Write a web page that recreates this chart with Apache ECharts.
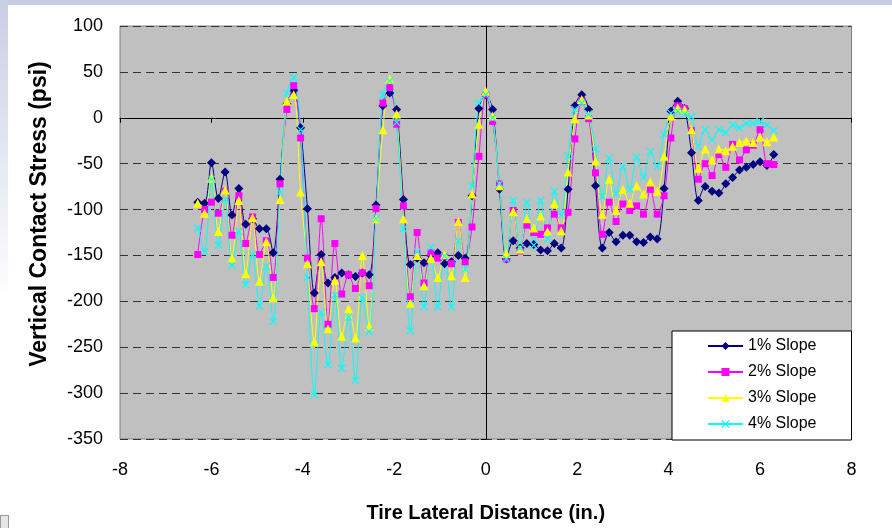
<!DOCTYPE html>
<html>
<head>
<meta charset="utf-8">
<script src="https://cdn.jsdelivr.net/npm/echarts@6/dist/echarts.min.js"></script>
<style>
    html, body { margin: 0; padding: 0; background: #fff; }
    .wrap { position: relative; width: 892px; height: 528px; overflow: hidden; }
    .top_bar { position: absolute; left: 0; top: 0; width: 892px; height: 5px; background: #c6cce2; }
    .left_bar { position: absolute; left: 0; top: 0; width: 8px; height: 300px; background: linear-gradient(#c9cee4, #fff); }
    .corner { position: absolute; left: 0; top: 515px; width: 7px; height: 13px; border: 1px solid #999; background: #e6e6e6; }
    .chart { position: absolute; left: 0; top: 0; width: 892px; height: 528px; }
</style>
</head>
<body>
<div class="wrap">
    <div class="top_bar"></div>
    <div class="left_bar"></div>
    <div class="corner"></div>
    <div class="chart"></div>
</div>
<script>
// 横向位置 (in.)
let xs = [-6.3, -6.15, -6, -5.85, -5.7, -5.55, -5.4, -5.25, -5.1, -4.95, -4.8, -4.65, -4.5, -4.35, -4.2,
    -4.05, -3.9, -3.75, -3.6, -3.45, -3.3, -3.15, -3, -2.85, -2.7, -2.55, -2.4, -2.25, -2.1, -1.95,
    -1.8, -1.65, -1.5, -1.35, -1.2, -1.05, -0.9, -0.75, -0.6, -0.45, -0.3, -0.15, 0, 0.15, 0.3,
    0.45, 0.6, 0.75, 0.9, 1.05, 1.2, 1.35, 1.5, 1.65, 1.8, 1.95, 2.1, 2.25, 2.4, 2.55,
    2.7, 2.85, 3, 3.15, 3.3, 3.45, 3.6, 3.75, 3.9, 4.05, 4.2, 4.35, 4.5, 4.65, 4.8,
    4.95, 5.1, 5.25, 5.4, 5.55, 5.7, 5.85, 6, 6.15, 6.3];

let slope1 = [-92, -93, -49, -88, -59, -106, -77, -116, -110, -121, -121, -147, -67, 15, 30,
    -11, -99, -191, -149, -180, -174, -169, -171, -173, -169, -171, -95, 13, 27, 9,
    -89, -160, -153, -158, -150, -147, -159, -157, -150, -153, -85, 10, 25, 9, -78,
    -154, -134, -142, -137, -138, -144, -145, -137, -142, -78, 13, 25, 9, -74, -142,
    -125, -135, -128, -128, -135, -136, -130, -132, -77, 7, 18, 10, -38, -90, -75,
    -80, -82, -72, -65, -57, -54, -51, -48, -52, -40];

let slope2 = [-149, -100, -92, -104, -80, -128, -85, -137, -108, -149, -134, -174, -72, 9, 35,
    -22, -153, -208, -110, -225, -137, -192, -171, -186, -169, -183, -99, 16, 33, -7,
    -96, -195, -125, -180, -147, -153, -151, -159, -114, -157, -119, -42, 25, -4, -72,
    -154, -101, -145, -117, -125, -127, -120, -105, -120, -103, -23, 18, -1, -60, -127,
    -92, -113, -94, -101, -96, -105, -78, -105, -85, -22, 13, 10, -14, -67, -50,
    -63, -40, -54, -29, -46, -35, -30, -13, -50, -51];

let slope3 = [-93, -104, -66, -124, -79, -153, -90, -170, -109, -178, -135, -196, -89, 18, 25,
    -81, -159, -244, -157, -230, -177, -238, -208, -240, -150, -227, -110, -13, 42, 4,
    -110, -202, -150, -183, -153, -174, -149, -172, -113, -174, -83, -7, 29, 2, -74,
    -148, -102, -143, -110, -120, -107, -124, -93, -123, -59, -1, 20, 3, -47, -105,
    -67, -101, -78, -93, -74, -83, -70, -80, -42, 2, 11, 9, -13, -55, -34,
    -46, -34, -36, -31, -27, -25, -27, -21, -26, -21];

let slope4 = [-120, -146, -67, -139, -89, -161, -124, -182, -149, -205, -162, -222, -81, 27, 44,
    -13, -174, -302, -212, -269, -193, -273, -217, -286, -196, -233, -110, 25, 40, -5,
    -121, -232, -146, -206, -141, -206, -151, -206, -134, -165, -74, 16, 25, 0, -72,
    -154, -90, -142, -92, -139, -90, -132, -80, -106, -42, 9, 16, 4, -34, -86,
    -44, -83, -53, -78, -43, -65, -37, -53, -18, 5, 7, 4, 1, -31, -13,
    -24, -13, -16, -8, -11, -6, -6, -4, -8, -14];

let names = ['1% Slope', '2% Slope', '3% Slope', '4% Slope'];
let xTicks = [-8, 8, 2];
let yTicks = [-350, 100, 50];

window.addEventListener('load', function() {
    let myChart = echarts.init(document.querySelector('.chart'));

    let labelFont = 'Arial, "Liberation Sans", sans-serif';
    let crossX = 'path://M0,1L1,0L5,4L9,0L10,1L6,5L10,9L9,10L5,6L1,10L0,9L4,5Z';

    function pairs(ys) {
        return xs.map(function(x, i) {
            return [x, ys[i]];
        });
    }

    function line(name, ys, color, symbol, size) {
        return {
            name: name,
            type: 'line',
            smooth: 0.3,
            symbol: symbol,
            symbolSize: size,
            lineStyle: { color: color, width: 1 },
            itemStyle: { color: color },
            emphasis: { disabled: true },
            data: pairs(ys)
        };
    }

    let option = {
        animation: false,
        backgroundColor: 'transparent',
        grid: {
            left: 120,
            right: 40.5,
            top: 26,
            bottom: 87,
            show: true,
            backgroundColor: '#c0c0c0',
            borderColor: '#808080',
            borderWidth: 1
        },
        legend: {
            orient: 'vertical',
            left: 672,
            top: 331,
            padding: [7, 35, 8, 35],
            itemGap: 10,
            itemWidth: 35,
            itemHeight: 10,
            backgroundColor: '#fff',
            borderColor: '#000',
            borderWidth: 1,
            textStyle: { fontSize: 16, fontFamily: labelFont, color: '#000' },
            data: names
        },
        xAxis: [{
            type: 'value',
            min: xTicks[0],
            max: xTicks[1],
            interval: xTicks[2],
            position: 'bottom',
            axisLine: { show: false, onZero: false },
            axisTick: { show: false },
            splitLine: { show: false },
            axisLabel: { margin: 22, fontSize: 18, fontFamily: labelFont, color: '#000' },
            name: 'Tire Lateral Distance (in.)',
            nameLocation: 'middle',
            nameGap: 64,
            nameTextStyle: { fontSize: 20, fontWeight: 'bold', fontFamily: labelFont, color: '#000' }
        }, {
            type: 'value',
            min: xTicks[0],
            max: xTicks[1],
            interval: xTicks[2],
            position: 'bottom',
            axisLine: { show: true, onZero: true, lineStyle: { color: '#000', width: 1 } },
            axisTick: { show: true, length: 5, lineStyle: { color: '#000' } },
            axisLabel: { show: false },
            splitLine: { show: false }
        }],
        yAxis: [{
            type: 'value',
            min: yTicks[0],
            max: yTicks[1],
            interval: yTicks[2],
            position: 'left',
            axisLine: { show: false, onZero: false },
            axisTick: { show: false },
            splitLine: { lineStyle: { color: '#333', width: 1, type: [8, 5] } },
            axisLabel: { margin: 17, fontSize: 18, fontFamily: labelFont, color: '#000' }
        }, {
            type: 'value',
            min: yTicks[0],
            max: yTicks[1],
            interval: yTicks[2],
            position: 'left',
            axisLine: { show: true, onZero: true, lineStyle: { color: '#000', width: 1 } },
            axisTick: { show: true, length: 5, lineStyle: { color: '#000' } },
            axisLabel: { show: false },
            splitLine: { show: false }
        }],
        graphic: [{
            type: 'text',
            x: 40,
            y: 214,
            rotation: Math.PI / 2,
            style: {
                text: 'Vertical Contact Stress (psi)',
                font: 'bold 23px ' + labelFont,
                fill: '#000',
                align: 'center',
                verticalAlign: 'middle'
            }
        }],
        series: [
            line(names[0], slope1, '#000080', 'diamond', 9),
            line(names[1], slope2, '#ff00ff', 'rect', 7),
            line(names[2], slope3, '#ffff00', 'triangle', 9),
            line(names[3], slope4, '#00ffff', crossX, 8)
        ]
    };

    myChart.setOption(option);
});
</script>
</body>
</html>
